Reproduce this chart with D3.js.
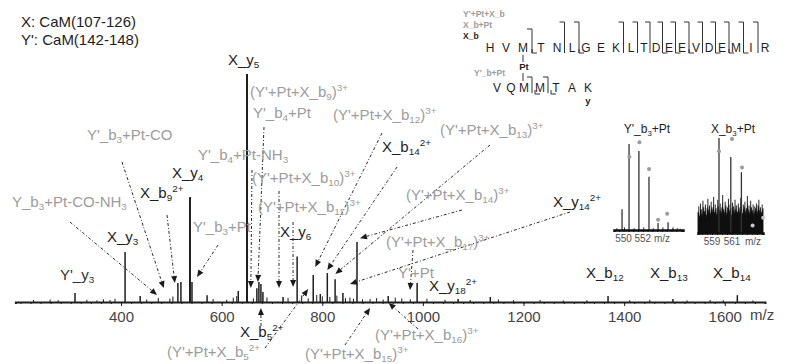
<!DOCTYPE html>
<html><head><meta charset="utf-8">
<script src="https://cdn.jsdelivr.net/npm/d3@7/dist/d3.min.js"></script>
<style>body{margin:0;background:#fff}svg{display:block;font-family:"Liberation Sans",Arial,sans-serif}</style>
</head><body>
<script>
// ---------- DATA ----------
// main spectrum: [m/z, relative intensity %]
const mainPeaks = [[308.5,3.9],[408,21.9],[438,2.6],[513,8.3],[519,8.8],[537,46],[541,8.8],[571,3],[633,4.8],
  [650.4,100],[670,6],[674,8.8],[678,7.9],[682,4.4],[722,2.2],[750,20],[782,11.8],[796,3.5],[810,12.7],
  [825.5,10],[841,4],[869,26.3],[931,2.6],[988.5,8.3],[1070,1.3],[1134,2.2],[1368,2.6],[1497,1.3],[1625,3]];
const mainNoise = [[226,0.9],[259,1.1],[275,0.8],[332,1.0],[352,0.7],[365,1.2],[378,0.9],[388,1.4],[451,1.1],
  [474,1.8],[497,1.5],[503,2.4],[583,1.3],[610,1.0],[623,1.9],[630,2.6],[663,1.6],[690,2.0],[732,1.8],[759,2.9],
  [772,1.6],[789,3.1],[800,2.5],[815,2.2],[829,2.8],[846,1.7],[855,2.0],[862,1.4],[880,1.2],[895,1.3],[908,1.7],
  [921,1.1],[945,1.9],[958,1.6],[975,1.2],[1008,1.4],[1044,1.0],[1094,0.9],[1150,1.1],[1180,0.8],[1233,0.9],
  [1279,0.7],[1326,0.8],[1411,0.8],[1451,1.0],[1525,0.7],[1571,0.9],[1597,0.8],[1656,0.7]];
const mainTicks = [400,600,800,1000,1200,1400,1600];

// inset 1: Y'_b3+Pt
const inset1Peaks = [[549.84,24],[550.57,100],[551.6,92],[552.65,62],[553.6,8],[554.64,9],[555.16,3]];
const inset1Noise = [[549.3,2],[550.1,3],[551.1,2],[552.1,3],[553.1,2],[554.1,3],[555.6,2],[555.9,1.5]];
const inset1Dots = [[550.6,85],[551.65,102],[552.65,71],[553.6,12],[554.55,19]];
const inset1Ticks = [550,552];
// inset 2: X_b3+Pt
const inset2Peaks = [[559.7,100],[560.88,80],[561.94,64]];
const inset2Dots = [[559.7,86],[561.0,99],[562.0,69],[563.06,8],[564.12,16]];
const inset2Noise = [22,28,18,31,25,20,34,27,23,30,19,26,36,24,29,21,33,27,25,38,22,30,26,20,35,28,24,31,23,27,
  40,25,22,33,29,21,27,36,24,30,26,19,32,28,23,35,25,29,22,31,27,24,37,26,21,30,28,33,23,26,39,25,29,22,34,27,24,30,21,28,
  26,31,23,29,35,24,27,22,30,26];
const inset2Ticks = [559,561];

// sequences
const seqX = "HVMTNLGEKLTDEEVDEMIR".split("");
const seqY = "VQMMTAK".split("");
const xTopL1 = [5,6,9,10,11,12,13,14,15,16,17,18,19]; // Y'+Pt+X_b fragments (after residue n)
const xTopL2 = [3];                                   // X_b+Pt
const xFeet  = [3,6,12,13,14,16,17,18];               // X_b
const yTop   = [3,4];
const yFeet  = [3,4];

// ---------- LAYOUT ----------
const W = 792, H = 364;
const svg = d3.select("body").append("svg").attr("width", W).attr("height", H);
const BLACK = "#1e1e1e", GRAY = "#9c9c9c";

const x = d3.scaleLinear().domain([190, 1680]).range([15.4, 765]);
const y = d3.scaleLinear().domain([0, 100]).range([302, 74]);

function rich(g, str, px, py, size, color, opt = {}) {
  const t = g.append("text").attr("x", px).attr("y", py).attr("font-size", size).attr("fill", color)
    .attr("text-anchor", opt.anchor || "start").attr("font-weight", opt.weight || "normal");
  const parts = str.split(/(\[[^\]]*\]|\{[^}]*\})/g).filter(s => s.length);
  let shift = 0;
  parts.forEach(p => {
    let type = "n", txt = p;
    if (p[0] === "[") { type = "sub"; txt = p.slice(1, -1); }
    else if (p[0] === "{") { type = "sup"; txt = p.slice(1, -1); }
    const target = type === "sub" ? size * 0.22 : type === "sup" ? -size * 0.4 : 0;
    t.append("tspan").attr("dy", target - shift).attr("font-size", type === "n" ? size : size * 0.66).text(txt);
    shift = target;
  });
  return t;
}

// ---------- MAIN AXIS ----------
const axisMinor = d3.axisBottom(x).tickValues(d3.range(200, 1680, 20)).tickSize(2).tickFormat("");
const gMinor = svg.append("g").attr("transform", `translate(0,${y(0)})`).call(axisMinor);
gMinor.select(".domain").attr("stroke", BLACK).attr("stroke-width", 2);
gMinor.selectAll(".tick line").attr("stroke", BLACK);
const axisMajor = d3.axisBottom(x).tickValues(mainTicks).tickSize(4).tickPadding(5).tickFormat(d3.format("d"));
const gMajor = svg.append("g").attr("transform", `translate(0,${y(0)})`).call(axisMajor);
gMajor.select(".domain").remove();
gMajor.selectAll(".tick line").attr("stroke", BLACK);
gMajor.selectAll(".tick text").attr("font-size", 15).attr("fill", "#444").attr("font-family", '"Liberation Sans",Arial,sans-serif');
svg.append("text").attr("x", 750).attr("y", 320).attr("font-size", 15).attr("fill", "#444").text("m/z");

// ---------- MAIN PEAKS ----------
const gp = svg.append("g");
gp.selectAll("line.n").data(mainNoise).join("line")
  .attr("x1", d => x(d[0])).attr("x2", d => x(d[0])).attr("y1", y(0)).attr("y2", d => y(d[1]))
  .attr("stroke", BLACK).attr("stroke-width", 1);
gp.selectAll("line.p").data(mainPeaks).join("line")
  .attr("x1", d => x(d[0])).attr("x2", d => x(d[0])).attr("y1", y(0)).attr("y2", d => y(d[1]))
  .attr("stroke", BLACK).attr("stroke-width", d => d[1] > 40 ? 2 : 1.5);

// ---------- ANNOTATION ARROWS ----------
// tip anchored in data units (m/z, intensity), tail at the label (px)
const arrows = [
  {mz:485, v:6.1, tx:122, ty:162}, {mz:471.5, v:3.1, tx:70, ty:222}, {mz:507, v:8.3, tx:167, ty:215},
  {mz:551, v:11, tx:218, ty:245}, {mz:658, v:6.1, tx:252, ty:170}, {mz:672, v:8.8, tx:264, ty:127},
  {mz:714, v:6.1, tx:279, ty:191}, {mz:742, v:6.6, tx:293, ty:222}, {mz:786, v:15.4, tx:382, ty:133},
  {mz:810, v:14, tx:397, ty:167}, {mz:826, v:12.3, tx:490, ty:145}, {mz:855, v:7.9, tx:570, ty:212},
  {mz:875, v:28, tx:462, ty:210}, {mz:974.5, v:5.3, tx:413, ty:250}, {mz:932, v:-0.4, tx:418, ty:329},
  {mz:895, v:-2.6, tx:345, ty:345}, {mz:678, v:-2.6, tx:261, ty:326}, {mz:772, v:5.7, tx:265, ty:348}
];
const ga = svg.append("g");
arrows.forEach(a => {
  const hx = x(a.mz), hy = y(a.v);
  const ang = Math.atan2(hy - a.ty, hx - a.tx);
  const L = 7, Wd = 3;
  const bx = hx - L * Math.cos(ang), by = hy - L * Math.sin(ang);
  ga.append("line").attr("x1", a.tx).attr("y1", a.ty).attr("x2", bx).attr("y2", by)
    .attr("stroke", "#2a2a2a").attr("stroke-width", 1).attr("stroke-dasharray", "3,2,1,2");
  const px = -Math.sin(ang), py = Math.cos(ang);
  ga.append("path").attr("d", `M${hx},${hy}L${bx + Wd * px},${by + Wd * py}L${bx - Wd * px},${by - Wd * py}Z`)
    .attr("fill", "#1a1a1a");
});

// ---------- LABELS ----------
const labels = [
  {t:"X: CaM(107-126)", x:21, y:27, c:BLACK},
  {t:"Y': CaM(142-148)", x:21, y:45, c:BLACK},
  {t:"X_y[5]", x:228, y:65, c:BLACK},
  {t:"(Y'+Pt+X_b[9]){3+}", x:250, y:97, c:GRAY},
  {t:"Y'_b[4]+Pt", x:253, y:118, c:GRAY},
  {t:"(Y'+Pt+X_b[12]){3+}", x:333, y:120, c:GRAY},
  {t:"Y'_b[3]+Pt-CO", x:87, y:140, c:GRAY},
  {t:"(Y'+Pt+X_b[13]){3+}", x:440, y:135, c:GRAY},
  {t:"X_b[14]{2+}", x:382, y:152, c:BLACK},
  {t:"Y'_b[4]+Pt-NH[3]", x:198, y:160, c:GRAY},
  {t:"X_y[4]", x:172, y:178, c:BLACK},
  {t:"(Y'+Pt+X_b[10]){3+}", x:252, y:183, c:GRAY},
  {t:"X_b[9]{2+}", x:140, y:198, c:BLACK},
  {t:"(Y'+Pt+X_b[14]){3+}", x:406, y:200, c:GRAY},
  {t:"Y_b[3]+Pt-CO-NH[3]", x:12, y:207, c:GRAY},
  {t:"X_y[14]{2+}", x:553, y:207, c:BLACK},
  {t:"(Y'+Pt+X_b[11]){3+}", x:258, y:212, c:GRAY},
  {t:"Y'_b[3]+Pt", x:193, y:232, c:GRAY},
  {t:"X_y[6]", x:280, y:237, c:BLACK},
  {t:"X_y[3]", x:107, y:242, c:BLACK},
  {t:"(Y'+Pt+X_b[17]){3+}", x:386, y:247, c:GRAY},
  {t:"Y'+Pt", x:398, y:278, c:GRAY},
  {t:"Y'_y[3]", x:60, y:280, c:"#333"},
  {t:"X_b[12]", x:586, y:278, c:BLACK},
  {t:"X_b[13]", x:650, y:278, c:BLACK},
  {t:"X_b[14]", x:713, y:278, c:BLACK},
  {t:"X_y[18]{2+}", x:429, y:291, c:BLACK},
  {t:"X_b[5]{2+}", x:240, y:337, c:BLACK},
  {t:"(Y'+Pt+X_b[16]){3+}", x:375, y:340, c:GRAY},
  {t:"(Y'+Pt+X_b[5]{2+}", x:167, y:357, c:GRAY},
  {t:"(Y'+Pt+X_b[15]){3+}", x:305, y:359, c:GRAY}
];
const gl = svg.append("g");
labels.forEach(l => rich(gl, l.t, l.x, l.y, 15, l.c));

// ---------- INSETS ----------
function inset(cfg) {
  const g = svg.append("g");
  const xs = d3.scaleLinear().domain(cfg.dom).range(cfg.rng);
  const ys = d3.scaleLinear().domain([0, 100]).range([cfg.base, cfg.top]);
  if (cfg.noiseArr) {
    const step = (cfg.dom[1] - cfg.dom[0]) / (cfg.noiseArr.length - 1);
    const pts = cfg.noiseArr.map((v, i) => [cfg.dom[0] + i * step, v]);
    g.append("path").datum(pts)
      .attr("d", d3.area().x(d => xs(d[0])).y0(ys(0)).y1(d => ys(d[1] * 0.85)))
      .attr("fill", "#111");
    g.selectAll("line.nz").data(pts).join("line")
      .attr("x1", d => xs(d[0])).attr("x2", d => xs(d[0])).attr("y1", ys(0)).attr("y2", d => ys(d[1]))
      .attr("stroke", "#111").attr("stroke-width", 0.9);
  }
  if (cfg.noise) g.selectAll("line.ns").data(cfg.noise).join("line")
    .attr("x1", d => xs(d[0])).attr("x2", d => xs(d[0])).attr("y1", ys(0)).attr("y2", d => ys(d[1]))
    .attr("stroke", "#222").attr("stroke-width", 1);
  g.selectAll("line.pk").data(cfg.peaks).join("line")
    .attr("x1", d => xs(d[0])).attr("x2", d => xs(d[0])).attr("y1", ys(0)).attr("y2", d => ys(d[1]))
    .attr("stroke", "#333").attr("stroke-width", 1.3);
  const ax = d3.axisBottom(xs).tickValues(d3.range(Math.ceil(cfg.dom[0] * 2) / 2, cfg.dom[1], 0.5)).tickSize(2).tickFormat("");
  const gx = g.append("g").attr("transform", `translate(0,${cfg.base})`).call(ax);
  gx.select(".domain").attr("stroke", "#111").attr("stroke-width", 2.5);
  gx.selectAll(".tick line").attr("stroke", "#111");
  g.selectAll("circle").data(cfg.dots).join("circle")
    .attr("cx", d => xs(d[0])).attr("cy", d => ys(d[1])).attr("r", 2)
    .attr("fill", d => d[1] < 30 && cfg.noiseArr ? "#c8c8c8" : "#9a9a9a");
  g.selectAll("text.tk").data(cfg.ticks).join("text")
    .attr("x", d => xs(d)).attr("y", cfg.base + 12).attr("text-anchor", "middle")
    .attr("font-size", 10).attr("fill", "#555").text(d => d);
  g.append("text").attr("x", cfg.mzx).attr("y", cfg.base + 12).attr("text-anchor", "middle")
    .attr("font-size", 10).attr("fill", "#555").text("m/z");
  rich(g, cfg.title, cfg.titleX, 133, 12, BLACK, {anchor: "middle"});
}
inset({dom:[549.0, 556.2], rng:[614, 683], base:230, top:144, peaks:inset1Peaks, noise:inset1Noise,
  dots:inset1Dots, ticks:inset1Ticks, mzx:662, title:"Y'_b[3]+Pt", titleX:647});
inset({dom:[557.6, 564.1], rng:[698, 763], base:233, top:138, peaks:inset2Peaks, noiseArr:inset2Noise,
  dots:inset2Dots, ticks:inset2Ticks, mzx:753, title:"X_b[3]+Pt", titleX:733});

// ---------- SEQUENCE MAP ----------
const gs = svg.append("g");
const xPosX = [490,506,523,541,557,572,586,601,616,631,644,656,669,682,696,709,722,736,751,765];
const xPosY = [497,511,524,540,556,572,588];
const rowX = 52, rowY = 92;
gs.selectAll("text.sx").data(seqX).join("text").attr("x", (d, i) => xPosX[i]).attr("y", rowX)
  .attr("text-anchor", "middle").attr("font-size", 12).attr("fill", BLACK).text(d => d);
gs.selectAll("text.sy").data(seqY).join("text").attr("x", (d, i) => xPosY[i]).attr("y", rowY)
  .attr("text-anchor", "middle").attr("font-size", 12).attr("fill", BLACK).text(d => d);
const cut = (pos, n) => (pos[n - 1] + pos[n]) / 2;
const br = (x0, y0, y1) => gs.append("path").attr("d", `M${x0 - 5},${y0}H${x0}V${y1}`)
  .attr("fill", "none").attr("stroke", "#333").attr("stroke-width", 1);
const foot = (x0, yb) => gs.append("path").attr("d", `M${x0},${yb - 4}V${yb}H${x0 + 5}`)
  .attr("fill", "none").attr("stroke", "#333").attr("stroke-width", 1);
xTopL1.forEach(n => br(cut(xPosX, n), 22, rowX + 1));
xTopL2.forEach(n => br(cut(xPosX, n), 29, rowX + 1));
xFeet.forEach(n => foot(cut(xPosX, n), rowX + 1));
yTop.forEach(n => br(cut(xPosY, n), 77, rowY + 1));
yFeet.forEach(n => foot(cut(xPosY, n) + 3, rowY + 2));
gs.append("text").attr("x", 463).attr("y", 17).attr("font-size", 8.5).attr("font-weight", "bold").attr("fill", GRAY).text("Y'+Pt+X_b");
gs.append("text").attr("x", 463).attr("y", 28).attr("font-size", 8.5).attr("font-weight", "bold").attr("fill", GRAY).text("X_b+Pt");
gs.append("text").attr("x", 463).attr("y", 39).attr("font-size", 8.5).attr("font-weight", "bold").attr("fill", BLACK).text("X_b");
gs.append("text").attr("x", 474).attr("y", 76).attr("font-size", 8.5).attr("font-weight", "bold").attr("fill", GRAY).text("Y'_b+Pt");
gs.append("line").attr("x1", 523).attr("x2", 523).attr("y1", 55).attr("y2", 62).attr("stroke", "#333");
gs.append("text").attr("x", 524).attr("y", 70).attr("text-anchor", "middle").attr("font-size", 9.5).attr("font-weight", "bold").attr("fill", BLACK).text("Pt");
gs.append("line").attr("x1", 523).attr("x2", 523).attr("y1", 73).attr("y2", 81).attr("stroke", "#333");
gs.append("text").attr("x", 588).attr("y", 104).attr("text-anchor", "middle").attr("font-size", 9.5).attr("font-weight", "bold").attr("fill", BLACK).text("y");
</script>
</body></html>
